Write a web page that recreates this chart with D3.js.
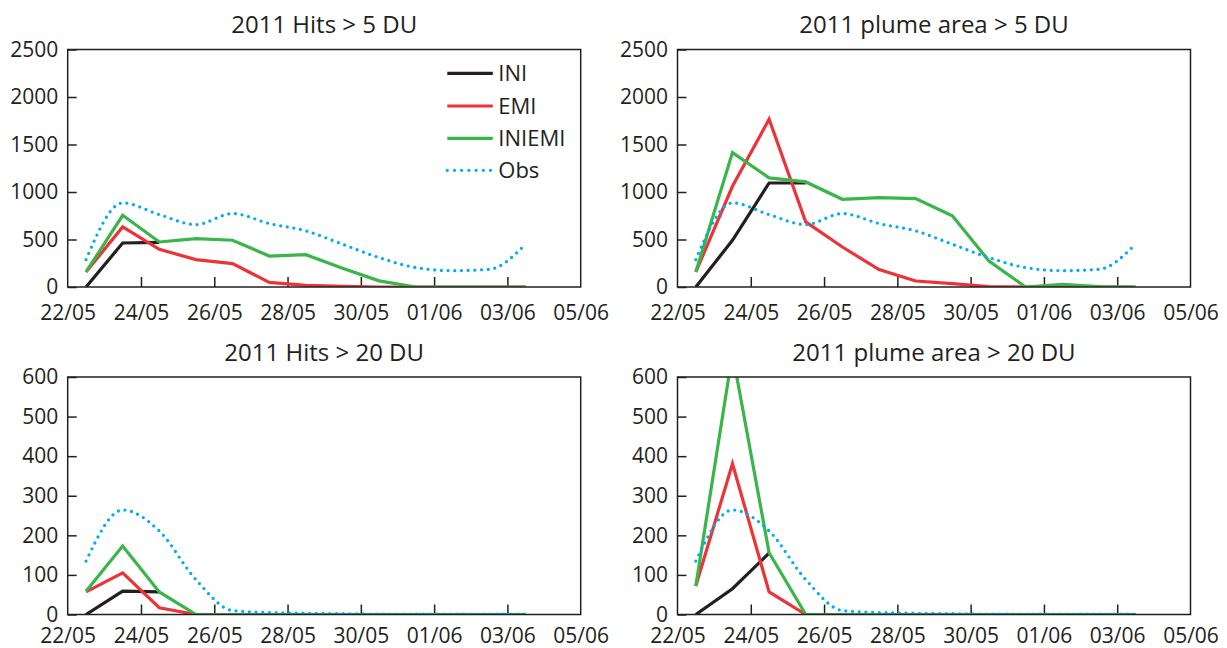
<!DOCTYPE html>
<html>
<head>
<meta charset="utf-8">
<script src="https://cdn.jsdelivr.net/npm/d3@7"></script>
<style>
  html, body { margin: 0; padding: 0; background: #ffffff; }
  svg { display: block; }
  text { font-family: "Open Sans", "Noto Sans", sans-serif; fill: #231f20; }
</style>
</head>
<body>
<svg id="chart" width="1227" height="648"></svg>
<script>
// Daily samples, 22 May 2011 12:00 UTC through 3 June 2011 12:00 UTC
const sampleDates = [
  "2011-05-22T12:00Z", "2011-05-23T12:00Z", "2011-05-24T12:00Z", "2011-05-25T12:00Z",
  "2011-05-26T12:00Z", "2011-05-27T12:00Z", "2011-05-28T12:00Z", "2011-05-29T12:00Z",
  "2011-05-30T12:00Z", "2011-05-31T12:00Z", "2011-06-01T12:00Z", "2011-06-02T12:00Z",
  "2011-06-03T12:00Z"
];

// Axis ticks
const xTickDates = [
  "2011-05-22T00:00Z", "2011-05-24T00:00Z", "2011-05-26T00:00Z", "2011-05-28T00:00Z",
  "2011-05-30T00:00Z", "2011-06-01T00:00Z", "2011-06-03T00:00Z", "2011-06-05T00:00Z"
];
const xTickLabels = ["22/05", "24/05", "26/05", "28/05", "30/05", "01/06", "03/06", "05/06"];
const yTicks5 = [0, 500, 1000, 1500, 2000, 2500];
const yTicks20 = [0, 100, 200, 300, 400, 500, 600];

// Hits > 5 DU
const hits5INI    = [0, 463, 470];
const hits5EMI    = [158, 632, 397, 288, 246, 49, 18, 8, 0, 0, 0, 0, 0];
const hits5INIEMI = [158, 755, 474, 510, 492, 326, 340, 198, 65, 0, 0, 0, 0];

// Plume area > 5 DU
const area5INI    = [0, 492, 1095, 1095];
const area5EMI    = [158, 1060, 1766, 685, 421, 183, 63, 35, 5, 0, 0, 0, 0];
const area5INIEMI = [158, 1415, 1148, 1106, 923, 941, 931, 749, 274, 0, 28, 5, 0];

// Observations > 5 DU
const obs5 = [288, 885, 762, 657, 773, 668, 591, 450, 309, 204, 172, 186, 452];

// Hits > 20 DU
const hits20INI    = [0, 59, 57];
const hits20EMI    = [57, 105, 17, 0, 0, 0, 0, 0, 0, 0, 0, 0, 0];
const hits20INIEMI = [59, 173, 57, 0, 0, 0, 0, 0, 0, 0, 0, 0, 0];

// Plume area > 20 DU
const area20INI    = [0, 65, 155];
const area20EMI    = [72, 381, 57, 0, 0, 0, 0, 0, 0, 0, 0, 0, 0];
const area20INIEMI = [72, 660, 156, 0, 0, 0, 0, 0, 0, 0, 0, 0, 0];

// Observations > 20 DU
const obs20 = [135, 264, 211, 88, 10, 5, 3, 2, 1, 1, 1, 1, 1];

const seriesNames = ["INI", "EMI", "INIEMI", "Obs"];
const colors = { INI: "#231f20", EMI: "#ee3338", INIEMI: "#3ab54a", Obs: "#00aeef" };

const panels = [
  { title: "2011 Hits > 5 DU", left: 67.7, top: 49.5, yMax: 2500, yTicks: yTicks5, labelPad: 18.4,
    data: { INI: hits5INI, EMI: hits5EMI, INIEMI: hits5INIEMI, Obs: obs5 }, legend: true },
  { title: "2011 plume area > 5 DU", left: 677.5, top: 49.5, yMax: 2500, yTicks: yTicks5, labelPad: 18.4,
    data: { INI: area5INI, EMI: area5EMI, INIEMI: area5INIEMI, Obs: obs5 } },
  { title: "2011 Hits > 20 DU", left: 67.7, top: 377, yMax: 600, yTicks: yTicks20, labelPad: 14,
    data: { INI: hits20INI, EMI: hits20EMI, INIEMI: hits20INIEMI, Obs: obs20 } },
  { title: "2011 plume area > 20 DU", left: 677.5, top: 377, yMax: 600, yTicks: yTicks20, labelPad: 14,
    data: { INI: area20INI, EMI: area20EMI, INIEMI: area20INIEMI, Obs: obs20 } }
];

const plotW = 513, plotH = 237.5;
const svg = d3.select("#chart");
const parse = d3.isoParse;
const dates = sampleDates.map(parse);
const tickDates = xTickDates.map(parse);

const x = d3.scaleUtc()
  .domain([tickDates[0], tickDates[tickDates.length - 1]])
  .range([0, plotW]);

panels.forEach((p, i) => {
  const g = svg.append("g").attr("transform", `translate(${p.left},${p.top})`);
  const y = d3.scaleLinear().domain([0, p.yMax]).range([plotH, 0]);

  const clipId = "clip" + i;
  g.append("clipPath").attr("id", clipId)
    .append("rect").attr("x", 0).attr("y", 0).attr("width", plotW).attr("height", plotH);

  // Title
  g.append("text")
    .attr("x", plotW / 2).attr("y", -16.5)
    .attr("text-anchor", "middle")
    .style("font-size", "24px")
    .text(p.title);

  // Axes with inward ticks
  const xAxis = d3.axisBottom(x)
    .tickValues(tickDates)
    .tickFormat((d, k) => xTickLabels[k])
    .tickSize(-10).tickPadding(p.labelPad);
  const gx = g.append("g").attr("transform", `translate(0,${plotH})`).call(xAxis);

  const yAxis = d3.axisLeft(y).tickValues(p.yTicks).tickFormat(d3.format("d"))
    .tickSize(-9).tickPadding(9.5);
  const gy = g.append("g").call(yAxis);

  [gx, gy].forEach(ax => {
    ax.select(".domain").remove();
    ax.selectAll(".tick line").attr("stroke", "#231f20").attr("stroke-width", 1.5);
    ax.selectAll(".tick text")
      .style("font-family", '"Open Sans", "Noto Sans", sans-serif')
      .style("font-size", "21px").attr("fill", "#231f20");
  });
  gx.selectAll(".tick line").filter((d, k) => k === 0 || k === tickDates.length - 1).remove();

  // Series lines
  const lines = g.append("g").attr("clip-path", `url(#${clipId})`);
  seriesNames.forEach(name => {
    const vals = p.data[name];
    const pts = vals.map((v, k) => ({ date: dates[k], value: v }));
    const line = d3.line()
      .x(d => x(d.date))
      .y(d => y(d.value))
      .curve(name === "Obs" ? d3.curveMonotoneX : d3.curveLinear);
    const path = lines.append("path")
      .datum(pts)
      .attr("d", line)
      .attr("fill", "none")
      .attr("stroke", colors[name])
      .attr("stroke-linejoin", "miter");
    if (name === "Obs") {
      path.attr("stroke-width", 3.3).attr("stroke-dasharray", "0 6.7").attr("stroke-linecap", "round");
    } else {
      path.attr("stroke-width", 3.2);
    }
  });

  // Frame
  g.append("rect")
    .attr("x", 0).attr("y", 0).attr("width", plotW).attr("height", plotH)
    .attr("fill", "none").attr("stroke", "#231f20").attr("stroke-width", 1.5);

  // Legend
  if (p.legend) {
    const lg = g.append("g").attr("transform", `translate(${447.3 - p.left},0)`);
    const rows = [73.3, 106, 138.3, 170.3];
    seriesNames.forEach((name, k) => {
      const ry = rows[k] - p.top;
      const ln = lg.append("line")
        .attr("x1", 0).attr("x2", 45.5)
        .attr("y1", ry).attr("y2", ry)
        .attr("stroke", colors[name]);
      if (name === "Obs") {
        ln.attr("stroke-width", 3.3).attr("stroke-dasharray", "0 7.2").attr("stroke-linecap", "round");
      } else {
        ln.attr("stroke-width", 3.2);
      }
      lg.append("text")
        .attr("x", 51).attr("y", ry).attr("dy", "0.36em")
        .style("font-size", "22px")
        .text(name);
    });
  }
});
</script>
</body>
</html>
